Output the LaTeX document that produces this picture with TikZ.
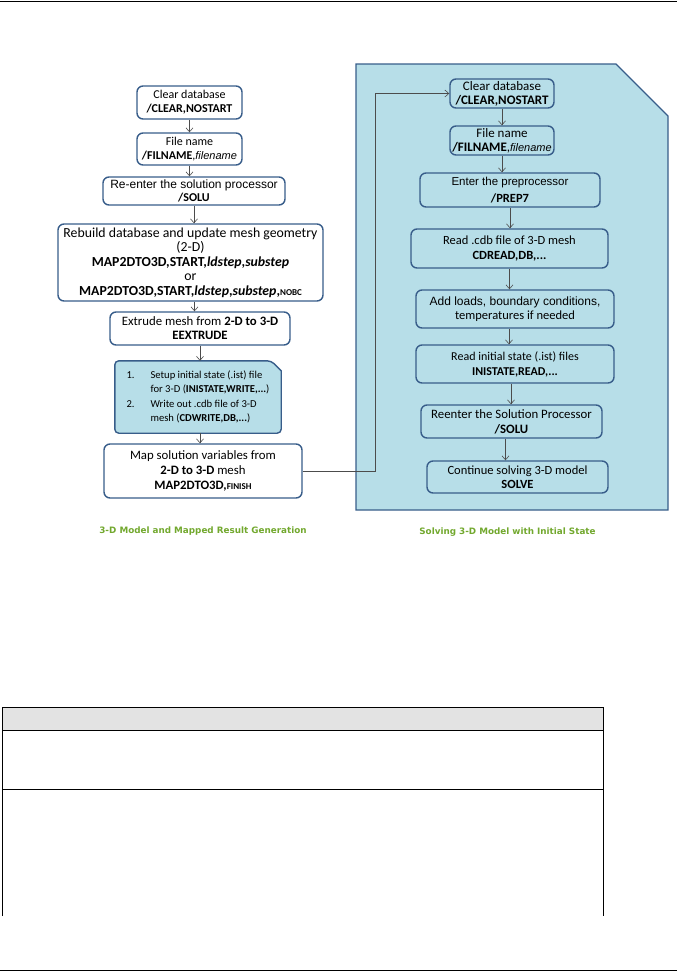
\documentclass[tikz,border=0pt]{standalone}
\usepackage{fontspec}
\setmainfont{Carlito}
\newfontfamily\arialfont{Liberation Sans}
\newfontfamily\verdfont{DejaVu Sans}
\usetikzlibrary{arrows.meta, calc, backgrounds}
\definecolor{boxline}{HTML}{385D8A}
\definecolor{aqua}{HTML}{B7DEE8}
\definecolor{capgreen}{HTML}{72A82E}
\definecolor{hdrgray}{HTML}{E3E3E3}

\begin{document}
\begin{tikzpicture}[
  x=1pt, y=-1pt,
  >={Straight Barb[length=4pt, width=7pt]},
  stepbox/.style={draw=boxline, line width=1.4pt, rounded corners=6pt, fill=white,
    align=center, inner sep=1pt, font=\fontsize{12}{14}\selectfont},
  solvebox/.style={stepbox, fill=aqua, font=\fontsize{12.5}{14.5}\selectfont},
  flow/.style={->, draw=black!70, line width=0.6pt},
  caption/.style={font=\verdfont\bfseries\fontsize{8.8}{10}\selectfont, text=capgreen}
]
\useasboundingbox (0,0) rectangle (677,972);

% page rules and table frame
\draw[line width=1.2pt] (0,1.5) -- (677,1.5);
\draw[line width=0.8pt] (0,970) -- (677,970);
\fill[hdrgray] (2,707) rectangle (603,730);
\draw[line width=0.9pt] (2,916) -- (2,707) -- (603,707) -- (603,916);
\draw[line width=0.9pt] (2,730) -- (603,730);
\draw[line width=0.9pt] (2,789) -- (603,789);

% right panel
\draw[boxline, line width=1.3pt, fill=aqua] (356,64) -- (616,64) -- (668,116) -- (668,510) -- (356,510) -- cycle;

% left column
\node[stepbox, minimum width=105pt, minimum height=33pt] (clearL) at (189.5,102.5)
  {Clear database\\\textbf{/CLEAR,NOSTART}};
\node[stepbox, minimum width=105pt, minimum height=32pt] (fileL) at (189.5,149)
  {File name\\\textbf{/FILNAME},{\arialfont\itshape\fontsize{11}{13}\selectfont filename}};
\node[stepbox, minimum width=182pt, minimum height=28pt, font=\fontsize{12}{13}\selectfont] (soluL) at (194,191)
  {{\arialfont\fontsize{12}{13}\selectfont Re-enter the solution processor}\\\textbf{/SOLU}};
\node[stepbox, minimum width=265pt, minimum height=77pt, font=\fontsize{13.8}{14.5}\selectfont] (rebuild) at (190.5,262.5)
  {Rebuild database and update mesh geometry\\(2-D)\\
   \textbf{MAP2DTO3D,START,\textit{ldstep},\textit{substep}}\\or\\
   \textbf{MAP2DTO3D,START,\textit{ldstep},\textit{substep},{\small NOBC}}};
\node[stepbox, minimum width=180pt, minimum height=33pt, font=\fontsize{12.8}{14}\selectfont] (extrude) at (200,328.5)
  {Extrude mesh from \textbf{2-D to 3-D}\\\textbf{EEXTRUDE}};
\node[align=left, minimum width=166pt, minimum height=72pt, inner xsep=5pt, inner ysep=3pt,
  font=\fontsize{10.6}{14.5}\selectfont] (setup) at (198,397)
  {\makebox[24pt][l]{1.}Setup initial state (.ist) file\\
   \makebox[24pt][l]{}for 3-D (\textbf{INISTATE,WRITE,...})\\
   \makebox[24pt][l]{2.}Write out .cdb file of 3-D\\
   \makebox[24pt][l]{}mesh (\textbf{CDWRITE,DB,...})};
\begin{scope}[on background layer]
\draw[boxline, line width=1.4pt, fill=aqua, rounded corners=4pt]
  (setup.south west) -- (setup.north west) -- ([xshift=-10pt]setup.north east)
  [sharp corners] -- ([yshift=-10pt]setup.north east) [rounded corners=4pt] -- (setup.south east) -- cycle;
\end{scope}
\node[stepbox, minimum width=198pt, minimum height=54pt, font=\fontsize{12.8}{15}\selectfont] (mapL) at (203,471)
  {Map solution variables from\\\textbf{2-D to 3-D} mesh\\\textbf{MAP2DTO3D,{\small FINISH}}};
\node[caption] (capL) at (203,531) {3-D Model and Mapped Result Generation};

% right column
\node[solvebox, minimum width=104pt, minimum height=29pt, font=\fontsize{13}{14}\selectfont] (clearR) at (502,93.5)
  {Clear database\\\textbf{/CLEAR,NOSTART}};
\node[solvebox, minimum width=104pt, minimum height=29pt, font=\fontsize{13}{14}\selectfont] (fileR) at (502,140.5)
  {File name\\\textbf{/FILNAME},{\arialfont\itshape\fontsize{11}{13}\selectfont filename}};
\node[solvebox, minimum width=180pt, minimum height=34pt] (prepR) at (510,190)
  {{\arialfont\fontsize{11.5}{13}\selectfont Enter the preprocessor}\\[2pt]\textbf{/PREP7}};
\node[solvebox, minimum width=197pt, minimum height=39pt] (cdbR) at (509.5,248.5)
  {Read .cdb file of 3-D mesh\\\textbf{CDREAD,DB,...}};
\node[solvebox, minimum width=198pt, minimum height=38pt] (loadsR) at (515,309)
  {{\arialfont\fontsize{12}{13}\selectfont Add loads, boundary conditions,}\\temperatures if needed};
\node[solvebox, minimum width=198pt, minimum height=38pt, font=\fontsize{12}{15}\selectfont] (istR) at (515,364)
  {Read initial state (.ist) files\\\textbf{INISTATE,READ,...}};
\node[solvebox, minimum width=181pt, minimum height=33pt, font=\fontsize{12.8}{15}\selectfont] (reenterR) at (511.5,421.5)
  {Reenter the Solution Processor\\\textbf{/SOLU}};
\node[solvebox, minimum width=181pt, minimum height=32pt] (solveR) at (517.5,477)
  {Continue solving 3-D model\\\textbf{SOLVE}};
\node[caption] (capR) at (507.5,532) {Solving 3-D Model with Initial State};

% connectors
\draw[flow] (clearL.south) -- (clearL.south |- fileL.north);
\draw[flow] (fileL.south) -- (fileL.south |- soluL.north);
\draw[flow] (soluL.south) -- (soluL.south |- rebuild.north);
\draw[flow] ([xshift=4pt]rebuild.south) -- ([xshift=4pt]rebuild.south |- extrude.north);
\draw[flow] (extrude.south) -- (extrude.south |- setup.north);
\draw[flow] ([xshift=2pt]setup.south) -- ([xshift=2pt]setup.south |- mapL.north);
\coordinate (bus) at (375,0);
\draw[flow] (mapL.east) -| (bus |- clearR.west) -- (clearR.west);
\draw[flow] (clearR.south) -- (clearR.south |- fileR.north);
\draw[flow] (fileR.south) -- (fileR.south |- prepR.north);
\draw[flow] (prepR.south) -- (prepR.south |- cdbR.north);
\draw[flow] (cdbR.south) -- (cdbR.south |- loadsR.north);
\draw[flow] ([xshift=-6pt]loadsR.south) -- ([xshift=-6pt]loadsR.south |- istR.north);
\draw[flow] ([xshift=-4pt]istR.south) -- ([xshift=-4pt]istR.south |- reenterR.north);
\draw[flow] ([xshift=-6pt]reenterR.south) -- ([xshift=-6pt]reenterR.south |- solveR.north);
\end{tikzpicture}
\end{document}
